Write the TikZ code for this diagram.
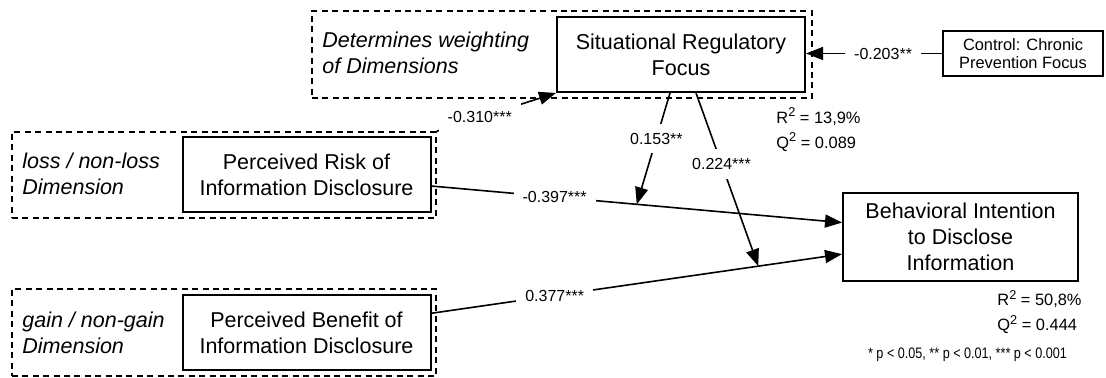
\documentclass[tikz,border=0pt]{standalone}
\usepackage{fontspec}
\usepackage{graphicx}
\setmainfont{Liberation Sans}
\usetikzlibrary{arrows.meta,calc}

% squared symbol for the fit statistics
\newcommand{\sqsym}{\raisebox{0.75ex}{\fontsize{6.4}{6.4}\selectfont 2}}

\tikzset{
  construct/.style={draw, line width=1pt, align=center, inner sep=0pt,
    minimum width=124pt, minimum height=37.5pt,
    font=\fontsize{10.75}{13}\selectfont},
  control/.style={draw, line width=0.6pt, align=center, inner sep=0pt,
    font=\fontsize{8.2}{9}\selectfont},
  group/.style={draw, line width=0.8pt, dash pattern=on 3pt off 2.2pt, inner sep=0pt},
  dimlabel/.style={anchor=west, align=left, inner sep=0pt,
    font=\fontsize{10.75}{13}\selectfont\itshape},
  coef/.style={fill=white, inner xsep=4.5pt, inner ysep=4.5pt,
    font=\fontsize{8}{9.6}\selectfont},
  fitstat/.style={anchor=west, align=left, inner sep=0pt,
    font=\fontsize{8.2}{12.5}\selectfont},
  link/.style={line width=0.8pt, -{Triangle[length=8.5pt,width=6.5pt]}},
}

\begin{document}
\begin{tikzpicture}[x=0.5pt, y=-0.5pt]
  \useasboundingbox (0,0) rectangle (1106,378);

  % dimension groups (dashed frames)
  \node[group, minimum width=250pt, minimum height=43.5pt] (gTop)  at (562,54.5) {};
  \node[group, minimum width=212pt, minimum height=43pt]   (gLoss) at (224,175) {};
  \node[group, minimum width=212pt, minimum height=43.5pt] (gGain) at (224,332.5) {};

  \node[dimlabel] (tTop)  at (322,53)    {Determines weighting\\of Dimensions};
  \node[dimlabel] (tLoss) at (22,173.5)  {loss / non-loss\\Dimension};
  \node[dimlabel] (tGain) at (22,332.5)  {gain / non-gain\\Dimension};

  % constructs
  \node[construct] (srf) at (681,54.5)    {Situational Regulatory\\Focus};
  \node[construct] (pr)  at (306.5,174.5) {Perceived Risk of\\Information Disclosure};
  \node[construct] (pb)  at (306.5,332.5) {Perceived Benefit of\\Information Disclosure};
  \node[construct, minimum width=117.5pt, minimum height=44pt] (bi) at (960.5,237)
    {Behavioral Intention\\to Disclose\\Information};
  \node[control, minimum width=80pt, minimum height=22.5pt] (ctrl) at (1023,53.5)
    {Control: Chronic\\Prevention Focus};

  % fit statistics
  \node[fitstat] (fitSrf) at (776,129.5) {R\sqsym{} = 13,9\%\\Q\sqsym{} = 0.089};
  \node[fitstat] (fitBi)  at (997,312)   {R\sqsym{} = 50,8\%\\Q\sqsym{} = 0.444};
  \node[anchor=center, inner sep=0pt, font=\fontsize{7.6}{9}\selectfont] (sig) at (967.5,355)
    {\scalebox{0.83}[1]{* p < 0.05, ** p < 0.01, *** p < 0.001}};

  % direct effects
  \draw[link] ($(pr.north east)!0.65!(pr.south east)$)
    -- node[coef, pos=0.30] {-0.397***} coordinate[pos=0.5] (mRisk)
       ($(bi.north west)!0.34!(bi.south west)$);
  \draw[link] ($(pb.north east)!0.25!(pb.south east)$)
    -- node[coef, pos=0.30] {0.377***} coordinate[pos=0.796] (mBenefit)
       ($(bi.north west)!0.69!(bi.south west)$);

  % moderating effects
  \draw[link] ($(srf.south west)!0.456!(srf.south east)$)
    -- node[coef, pos=0.41] {0.153**} (mRisk);
  \draw[link] ($(srf.south west)!0.56!(srf.south east)$)
    -- node[coef, pos=0.41] {0.224***} (mBenefit);

  % effects on the situational focus
  \draw[link] (gLoss.north east) -- node[coef, pos=0.36] {-0.310***} (srf.south west);
  \draw[link] (ctrl.west) -- node[coef, pos=0.435] {-0.203**} (srf.east |- ctrl.west);
\end{tikzpicture}
\end{document}
